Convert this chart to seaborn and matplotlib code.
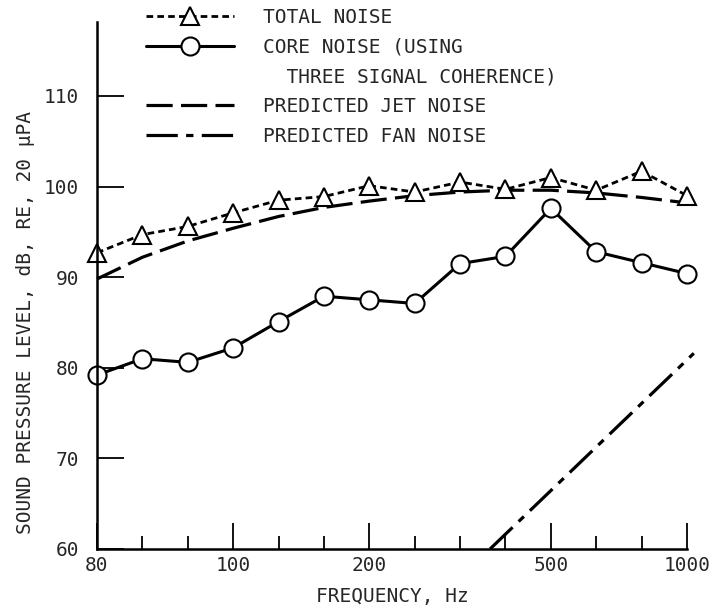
import matplotlib
matplotlib.use("Agg")
import matplotlib.pyplot as plt
from matplotlib.lines import Line2D
import seaborn as sns

# one-third octave bands, drawn at equal spacing as in the original figure
band = [0, 1, 2, 3, 4, 5, 6, 7, 8, 9, 10, 11, 12, 13]
tick_band = [0, 3, 6, 10, 13]
tick_labels = ['80', '100', '200', '500', '1000']
y_ticks = [60, 70, 80, 90, 100, 110]

# sound pressure level, dB re 20 uPa
total_noise = [92.7, 94.7, 95.6, 97.1, 98.5, 98.9, 100.1, 99.4, 100.5, 99.7, 101.0, 99.6, 101.7, 99.0]
core_noise = [79.2, 81.0, 80.6, 82.2, 85.1, 87.9, 87.5, 87.1, 91.5, 92.3, 97.6, 92.8, 91.6, 90.4]
jet_noise = [89.8, 92.2, 94.0, 95.4, 96.7, 97.7, 98.4, 99.0, 99.4, 99.6, 99.6, 99.3, 98.8, 98.2]
fan_band = [8.66, 13.15]
fan_noise = [60.0, 81.6]

sns.set_style('white')
plt.rcParams['font.family'] = ['DejaVu Sans Mono']
plt.rcParams['font.size'] = 14

fig = plt.figure(figsize=(7.12, 6.11), dpi=100)
ax = fig.add_axes([97/712, 62/611, 590/712, 527.3/611])

sns.lineplot(x=band, y=jet_noise, color='k', lw=2.3, linestyle=(0, (8.2, 2.6)),
             label='PREDICTED JET NOISE', ax=ax, clip_on=False)
sns.lineplot(x=fan_band, y=fan_noise, color='k', lw=2.3, linestyle=(0, (9.8, 2.6, 2.3, 2.6)),
             label='PREDICTED FAN NOISE', ax=ax, clip_on=False)
sns.lineplot(x=band, y=total_noise, color='k', lw=2.0, linestyle=(0, (2.4, 1.5)),
             marker='^', markersize=13, markerfacecolor='white', markeredgecolor='k',
             markeredgewidth=1.5, label='TOTAL NOISE', ax=ax, clip_on=False)
sns.lineplot(x=band, y=core_noise, color='k', lw=2.2,
             marker='o', markersize=13, markerfacecolor='white', markeredgecolor='k',
             markeredgewidth=1.5, label='CORE NOISE (USING', ax=ax, clip_on=False)

ax.set_xlim(0, 13)
ax.set_ylim(60, 118.2)
ax.set_xticks(tick_band)
ax.set_xticklabels(tick_labels)
ax.set_xticks([b for b in band if b not in tick_band], minor=True)
ax.set_yticks(y_ticks)
ax.tick_params(axis='x', which='both', bottom=True)
ax.tick_params(axis='y', which='both', left=True)
ax.tick_params(axis='x', which='major', direction='in', length=18.7, width=1.3, pad=5,
               labelsize=14, color='k')
ax.tick_params(axis='x', which='minor', direction='in', length=9.4, width=1.3, color='k')
ax.tick_params(axis='y', which='major', direction='in', length=19.4, width=1.3, pad=13,
               labelsize=14, color='k')
sns.despine(ax=ax)
for s in ['left', 'bottom']:
    ax.spines[s].set_linewidth(1.8)
    ax.spines[s].set_color('k')

ax.set_xlabel('FREQUENCY, Hz', fontsize=14)
ax.set_ylabel('SOUND PRESSURE LEVEL, dB, RE, 20 μPA', fontsize=14)
ax.xaxis.set_label_coords(0.5, -0.072)
ax.yaxis.set_label_coords(-0.105, 0.43)

# legend, with the second line of the core noise label as an empty entry
hl = dict(zip(*ax.get_legend_handles_labels()[::-1]))
blank = Line2D([], [], linestyle='none')
handles = [hl['TOTAL NOISE'], hl['CORE NOISE (USING'], blank,
           hl['PREDICTED JET NOISE'], hl['PREDICTED FAN NOISE']]
labels = ['TOTAL NOISE', 'CORE NOISE (USING', '  THREE SIGNAL COHERENCE)',
          'PREDICTED JET NOISE', 'PREDICTED FAN NOISE']
ax.legend(handles, labels, loc='upper left', bbox_to_anchor=(146/712, 1 - 8/611),
          bbox_transform=fig.transFigure, frameon=False, handlelength=4.5,
          handletextpad=1.5, labelspacing=0.55, borderpad=0, borderaxespad=0,
          numpoints=1, fontsize=14)

fig.savefig('out.png', dpi=100)
